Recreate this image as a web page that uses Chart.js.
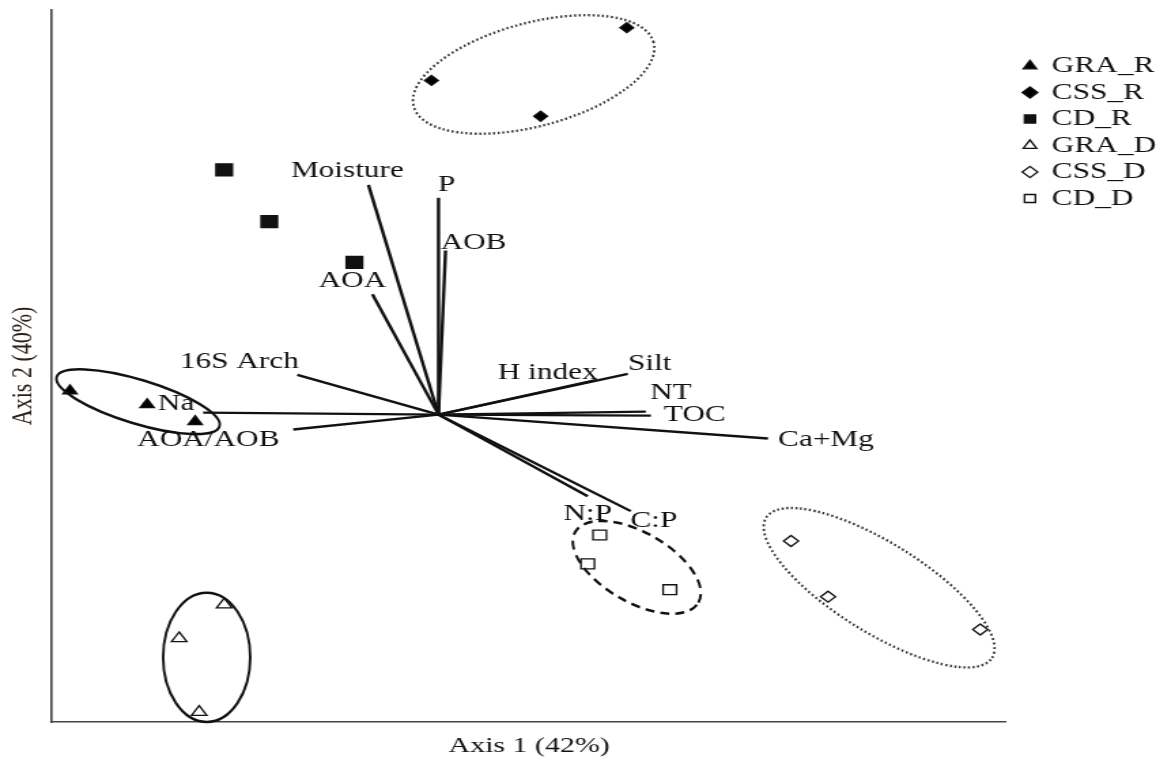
<!DOCTYPE html>
<html>
<head>
<meta charset="utf-8">
<script src="https://cdn.jsdelivr.net/npm/chart.js@4.4.1/dist/chart.umd.min.js"></script>
<style>
  html, body { margin:0; padding:0; background:#fff; overflow:hidden; }
  /* the figure is drawn narrow and stretched sideways, like the scanned original */
  #wrap { width:854px; height:760px; transform:scaleX(1.36); transform-origin:0 0; }
</style>
</head>
<body>
<div id="wrap"><canvas id="biplot" width="854" height="760"></canvas></div>
<script>
const STRETCH = 1.36;

// sample scores on axis 1 / axis 2
const groupNames = ['GRA_R', 'CSS_R', 'CD_R', 'GRA_D', 'CSS_D', 'CD_D'];
const graR_x = [-3.68, -2.91, -2.43];
const graR_y = [0.24, 0.10, -0.07];
const cssR_x = [-0.07, 1.88, 1.02];
const cssR_y = [3.36, 3.89, 3.00];
const cdR_x = [-2.14, -1.69, -0.84];
const cdR_y = [2.46, 1.94, 1.53];
const graD_x = [-2.14, -2.59, -2.39];
const graD_y = [-1.91, -2.25, -2.99];
const cssD_x = [3.52, 3.89, 5.41];
const cssD_y = [-1.27, -1.83, -2.16];
const cdD_x = [1.61, 1.49, 2.31];
const cdD_y = [-1.21, -1.50, -1.76];

// environmental vectors (end points)
const varNames = ['Moisture', 'P', 'AOB', 'AOA', '16S Arch', 'Na', 'AOA/AOB', 'H index', 'Silt', 'NT', 'TOC', 'Ca+Mg', 'N:P', 'C:P'];
const varAxis1 = [-0.70, 0.00, 0.07, -0.66, -1.41, -2.35, -1.45, 1.58, 1.89, 2.07, 2.12, 3.29, 1.49, 1.92];
const varAxis2 = [2.31, 2.18, 1.65, 1.21, 0.40, 0.02, -0.15, 0.35, 0.41, 0.03, -0.01, -0.24, -0.82, -0.97];

// group ellipses (centre, semi axes in axis units, tilt in degrees)
const hullCx = [-3.00, 0.95, -2.315, 1.98, 4.40];
const hullCy = [0.13, 3.42, -2.44, -1.535, -1.74];
const hullA = [0.85, 1.24, 0.435, 0.71, 1.33];
const hullB = [0.22, 0.52, 0.65, 0.35, 0.45];
const hullAngle = [-17, 15, 0, -30, -32];

// ---- styling (not data) ----
const groupX = [graR_x, cssR_x, cdR_x, graD_x, cssD_x, cdD_x];
const groupY = [graR_y, cssR_y, cdR_y, graD_y, cssD_y, cdD_y];
const groupShape = ['triangle', 'rectRot', 'rect', 'triangle', 'rectRot', 'rect'];
const groupFill = ['#000', '#000', '#111', '#fff', '#fff', '#fff'];
const groupRadius = [6, 5, 8.5, 6.5, 5.5, 7];
const hullDash = [[], [2, 2.6], [], [9, 6], [2, 2.6]];
const hullWidth = [2.6, 2.4, 2.6, 2.6, 2.4];
const labelOffset = [[-21, -14], [8, -13], [28, -8], [-20, -13], [-58, -13], [-27, -9], [-85, 10],
  [-49, -7], [22, -10], [25, -19], [44, -1], [58, 1], [0, 18], [23, 10]];

const SERIF = '"Liberation Serif", "Times New Roman", serif';
Chart.defaults.font.family = SERIF;
Chart.defaults.color = '#111';

const datasets = groupNames.map((name, g) => ({
  label: name,
  data: groupX[g].map((v, i) => ({ x: v, y: groupY[g][i] })),
  pointStyle: groupShape[g],
  pointRadius: groupRadius[g],
  backgroundColor: groupFill[g],
  borderColor: '#111',
  borderWidth: 1.3,
  clip: false,
  order: 0
}));

varNames.forEach((name, i) => {
  datasets.push({
    label: name,
    data: [{ x: 0, y: 0 }, { x: varAxis1[i], y: varAxis2[i] }],
    showLine: true,
    pointRadius: 0,
    borderColor: '#111',
    borderWidth: 2.4,
    clip: false,
    order: 1
  });
});

const overlay = {
  id: 'biplotOverlay',
  afterDatasetsDraw(chart) {
    const { ctx, scales: { x, y } } = chart;
    const ux = x.getPixelForValue(1) - x.getPixelForValue(0);
    const uy = y.getPixelForValue(0) - y.getPixelForValue(1);

    hullCx.forEach((cx, i) => {
      ctx.save();
      ctx.beginPath();
      ctx.save();
      ctx.translate(x.getPixelForValue(cx), y.getPixelForValue(hullCy[i]));
      ctx.scale(ux, -uy);
      ctx.rotate(hullAngle[i] * Math.PI / 180);
      ctx.ellipse(0, 0, hullA[i], hullB[i], 0, 0, Math.PI * 2);
      ctx.restore();
      ctx.scale(1 / STRETCH, 1); // so the pen stays round after the stretch
      ctx.setLineDash(hullDash[i]);
      ctx.lineWidth = hullWidth[i];
      ctx.strokeStyle = hullDash[i].length === 2 && hullDash[i][0] < 4 ? '#333' : '#111';
      ctx.stroke();
      ctx.restore();
    });

    ctx.save();
    ctx.font = '23px ' + SERIF;
    ctx.fillStyle = '#111';
    ctx.textAlign = 'center';
    ctx.textBaseline = 'middle';
    varNames.forEach((name, i) => {
      const px = x.getPixelForValue(varAxis1[i]) + labelOffset[i][0] / STRETCH;
      const py = y.getPixelForValue(varAxis2[i]) + labelOffset[i][1];
      ctx.fillText(name, px, py);
    });
    ctx.restore();
  }
};

new Chart(document.getElementById('biplot'), {
  type: 'scatter',
  data: { datasets },
  options: {
    responsive: false,
    animation: false,
    devicePixelRatio: 1,
    layout: { padding: { left: 2, top: 6, right: -6, bottom: 0 } },
    plugins: {
      tooltip: { enabled: false },
      legend: {
        position: 'right',
        align: 'start',
        title: { display: true, text: '', font: { size: 45, lineHeight: 1 }, padding: 0 },
        labels: {
          filter: item => item.datasetIndex < groupNames.length,
          usePointStyle: true,
          boxWidth: 9,
          boxHeight: 8,
          padding: 3.5,
          color: '#111',
          font: { size: 23, family: SERIF }
        }
      }
    },
    scales: {
      x: {
        type: 'linear', position: 'bottom', min: -3.86, max: 5.67,
        grid: { display: false, drawTicks: false },
        ticks: { display: false },
        border: { display: true, color: '#444', width: 1.6 },
        title: { display: true, text: 'Axis 1 (42%)', color: '#111', font: { size: 22, family: SERIF }, padding: { top: 10.6, bottom: 1 } }
      },
      y: {
        type: 'linear', position: 'left', min: -3.09, max: 4.07,
        grid: { display: false, drawTicks: false },
        ticks: { display: false },
        border: { display: true, color: '#444', width: 1.6 },
        title: { display: true, text: 'Axis 2 (40%)', color: '#2a2018', font: { size: 22, family: SERIF }, padding: { top: 1.7, bottom: 8.1 } }
      },
      // empty spacer between the plot and the legend
      gap: {
        type: 'linear', position: 'right', display: true,
        grid: { display: false, drawTicks: false },
        ticks: { display: false },
        border: { display: false },
        title: { display: true, text: '', font: { size: 1, lineHeight: 1 }, padding: { top: 0, bottom: 8.4 } }
      }
    }
  },
  plugins: [overlay]
});
</script>
</body>
</html>
